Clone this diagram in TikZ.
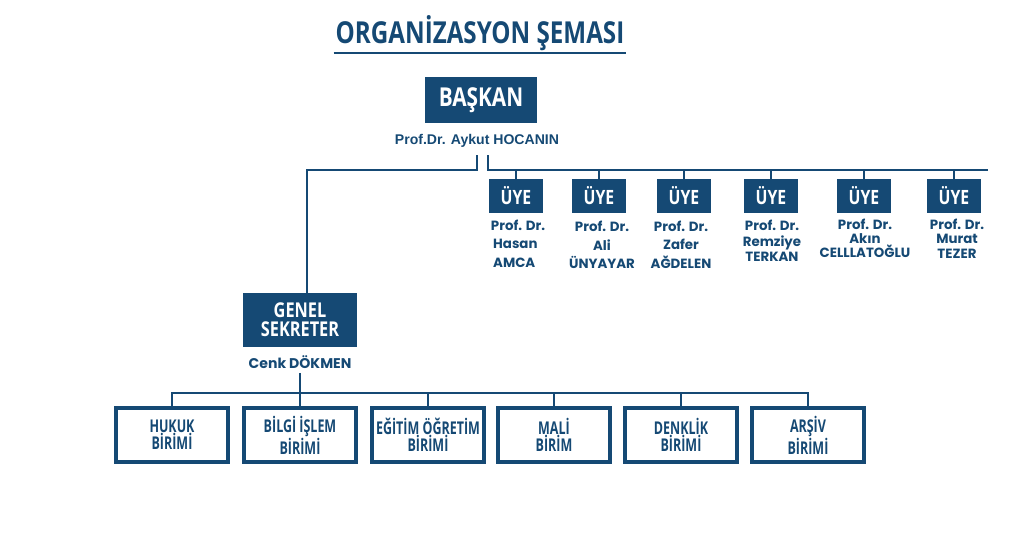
\documentclass[tikz,border=0pt]{standalone}
\usepackage{fontspec}
\usetikzlibrary{positioning}
\definecolor{OrgNavy}{RGB}{21,73,116}
\newfontfamily\condfont[FakeStretch=0.8]{Open Sans}
\newfontfamily\unitfont[FakeStretch=0.71]{Open Sans}
\newfontfamily\namefont{Liberation Sans}
\newfontfamily\memberfont{Poppins}
\tikzset{
	conn/.style={draw=OrgNavy,line width=1.2pt},
	headbox/.style={fill=OrgNavy,text=white,inner sep=0pt,align=center},
	uyebox/.style={headbox,minimum width=1.33cm,minimum height=0.85cm,
		font=\condfont\bfseries\fontsize{14}{14}\selectfont},
	unitbox/.style={draw=OrgNavy,line width=2.8pt,fill=white,text=OrgNavy,
		minimum width=2.82cm,minimum height=1.36cm,inner sep=0pt,align=center,
		font=\unitfont\bfseries\fontsize{12.5}{11.8}\selectfont},
	person/.style={text=OrgNavy,inner sep=0pt,align=center,
		font=\memberfont\bfseries\fontsize{9.5}{13.2}\selectfont},
}
\begin{document}
\begin{tikzpicture}[x=0.025cm,y=-0.025cm]
	\useasboundingbox (0,0) rectangle (1028,553);
	% title
	\node[text=OrgNavy,font=\condfont\bfseries\fontsize{21.5}{21.5}\selectfont] (title) at (480,33) {ORGANİZASYON ŞEMASI};
	\draw[OrgNavy,line width=1.4pt] ([xshift=2pt,yshift=2pt]title.south west) -- ([xshift=-2pt,yshift=2pt]title.south east);
	% head
	\node[headbox,minimum width=2.8cm,minimum height=1.13cm,
		font=\condfont\bfseries\fontsize{18.5}{18.5}\selectfont] (baskan) at (481,100) {BAŞKAN};
	\node[text=OrgNavy,inner sep=0pt,font=\namefont\bfseries\fontsize{10}{12}\selectfont] (baskanname) at (477,141) {Prof.Dr. Aykut HOCANIN};
	% members
	\foreach \i/\x in {1/516,2/599,3/684,4/771,5/864,6/954}
		\node[uyebox] (uye\i) at (\x,196) {ÜYE};
	\node[person,align=left] (uyename1) at (518,243.5) {Prof. Dr.\\\,Hasan\\\,AMCA};
	\node[person] (uyename2) at (602,245) {Prof. Dr.\\Ali\\ÜNYAYAR};
	\node[person] (uyename3) at (681,244.5) {Prof. Dr.\\Zafer\\AĞDELEN};
	\node[person,font=\memberfont\bfseries\fontsize{9.5}{11}\selectfont] (uyename4) at (772,241) {Prof. Dr.\\Remziye\\TERKAN};
	\node[person,font=\memberfont\bfseries\fontsize{9.5}{10}\selectfont] (uyename5) at (865,238) {Prof. Dr.\\Akın\\CELLLATOĞLU};
	\node[person,font=\memberfont\bfseries\fontsize{9.5}{10.3}\selectfont] (uyename6) at (957,238.5) {Prof. Dr.\\Murat\\TEZER};
	% secretary
	\node[headbox,minimum width=2.85cm,minimum height=1.35cm,
		font=\condfont\bfseries\fontsize{14.5}{13.3}\selectfont] (gs) at (300,320) {GENEL\\SEKRETER};
	\node[person,font=\memberfont\bfseries\fontsize{10}{12}\selectfont] (gsname) at (300,362) {Cenk DÖKMEN};
	% units
	\foreach \i/\x/\tx in {1/172/{HUKUK\\BİRİMİ},2/300/{BİLGİ İŞLEM\\BİRİMİ},3/428/{EĞİTİM ÖĞRETİM\\BİRİMİ},
		4/554/{MALİ\\BİRİM},5/681/{DENKLİK\\BİRİMİ},6/808/{ARŞİV\\BİRİMİ}}
		\node[unitbox] (birim\i) at (\x,435) {\tx};
	% connectors
	\coordinate (lsplit) at (477,155);
	\coordinate (rsplit) at (488,155);
	\coordinate (gsbend) at (307,170);
	\coordinate (busend) at (988,170);
	\coordinate (unitbus) at (300,393);
	\draw[conn] (lsplit) |- (gsbend) -- (gsbend |- gs.north);
	\draw[conn] (rsplit) |- (busend);
	\foreach \i in {1,...,6}
		\draw[conn] (uye\i.north |- busend) -- (uye\i.north);
	\draw[conn] ([yshift=-3pt]gsname.south) -- (birim2.north);
	\draw[conn] (birim1.north) -- (birim1.north |- unitbus) -- (birim6.north |- unitbus) -- (birim6.north);
	\foreach \i in {3,4,5}
		\draw[conn] (birim\i.north |- unitbus) -- (birim\i.north);
\end{tikzpicture}
\end{document}
